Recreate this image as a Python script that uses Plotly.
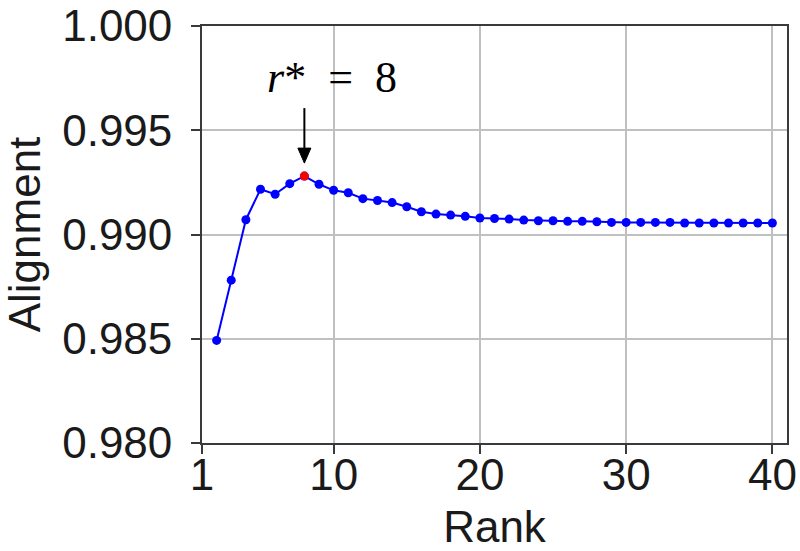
import plotly.graph_objects as go

# Alignment score for each LoRA rank
ranks = list(range(2, 41))
alignment = [
    0.98492, 0.98781, 0.99071, 0.99217, 0.99193, 0.99244, 0.99280, 0.99241,
    0.99212, 0.99200, 0.99172, 0.99163, 0.99153, 0.99133, 0.99109, 0.99098,
    0.99093, 0.99087, 0.99079, 0.99077, 0.99074, 0.99069, 0.99066, 0.99066,
    0.99063, 0.99063, 0.99061, 0.99058, 0.99058, 0.99058, 0.99058, 0.99058,
    0.99055, 0.99055, 0.99055, 0.99055, 0.99055, 0.99055, 0.99055,
]
best_rank = 8
best_value = alignment[ranks.index(best_rank)]

x_ticks = [1, 10, 20, 30, 40]
y_ticks = [0.980, 0.985, 0.990, 0.995, 1.000]
y_tick_text = ["0.980", "0.985", "0.990", "0.995", "1.000"]

FONT = "Liberation Sans, Arial, sans-serif"
AXIS_COLOR = "#3a3a3a"
GRID_COLOR = "#c0c0c0"

fig = go.Figure()
fig.add_trace(go.Scatter(
    x=ranks, y=alignment, mode="lines+markers",
    line=dict(color="#0000ff", width=2),
    marker=dict(color="#0000ff", size=9),
    showlegend=False,
))
fig.add_trace(go.Scatter(
    x=[best_rank], y=[best_value], mode="markers",
    marker=dict(color="#ff0000", size=9),
    showlegend=False,
))

# downward arrow above the best rank (shaft + head, sized in pixels)
fig.add_shape(
    type="line", xref="x", yref="y",
    xsizemode="pixel", xanchor=best_rank, x0=0, x1=0,
    ysizemode="pixel", yanchor=best_value, y0=68, y1=24,
    line=dict(color="#000000", width=2),
)
fig.add_shape(
    type="path", xref="x", yref="y",
    xsizemode="pixel", xanchor=best_rank,
    ysizemode="pixel", yanchor=best_value,
    path="M -6.5 28 L 6.5 28 L 0 13 Z",
    fillcolor="#000000", line=dict(color="#000000", width=1),
)
fig.add_annotation(
    x=best_rank, y=best_value, xref="x", yref="y",
    text="<i>r</i>*\u2002=\u20028",
    showarrow=False, xshift=28, yshift=99,
    font=dict(family="Liberation Serif, DejaVu Serif, serif", size=44, color="#000000"),
)

axis_common = dict(
    showline=True, mirror=True, linecolor=AXIS_COLOR, linewidth=1.8,
    ticks="outside", ticklen=9, tickwidth=1.5, tickcolor=AXIS_COLOR,
    showgrid=True, gridcolor=GRID_COLOR, gridwidth=1.5,
    zeroline=False, automargin=False,
    tickfont=dict(family=FONT, size=44, color="#1a1a1a"),
)

fig.update_xaxes(
    range=[1, 41], tickvals=x_ticks,
    title=dict(text="Rank", font=dict(family=FONT, size=44, color="#1a1a1a"), standoff=17),
    ticklabelstandoff=-17,
    **axis_common,
)
fig.update_yaxes(
    range=[0.980, 1.000], tickvals=y_ticks, ticktext=y_tick_text,
    title=dict(text="Alignment", font=dict(family=FONT, size=44, color="#1a1a1a"), standoff=18),
    ticklabelstandoff=10,
    **axis_common,
)

fig.update_layout(
    width=800, height=551,
    margin=dict(l=202, r=13, t=26, b=108),
    plot_bgcolor="#ffffff", paper_bgcolor="#ffffff",
)

fig.write_html("out.html")
